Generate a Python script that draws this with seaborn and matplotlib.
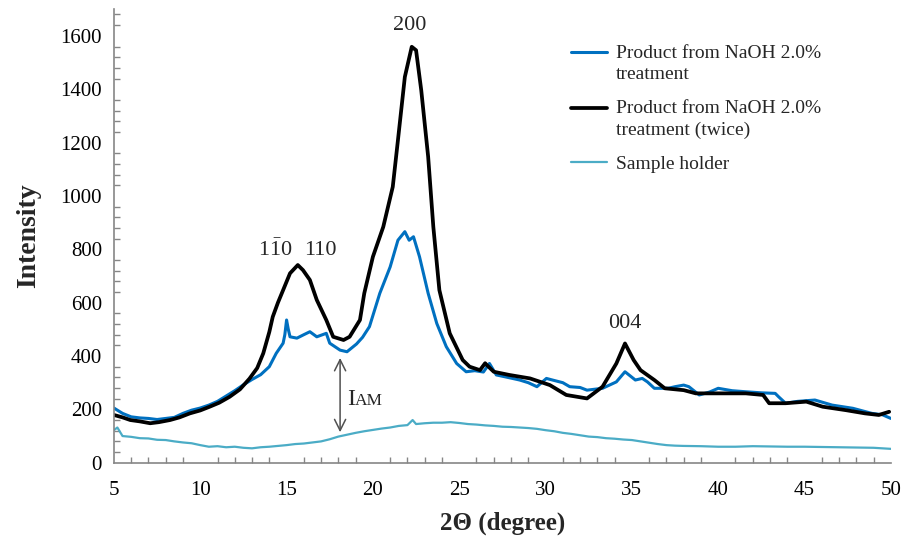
import pandas as pd
import seaborn as sns
import matplotlib.pyplot as plt
from matplotlib.ticker import MultipleLocator
from matplotlib.legend_handler import HandlerLine2D

# XRD patterns (2-theta in degrees, intensity)
once_x = [5.0, 5.5, 6.0, 6.5, 7.0, 7.5, 8.0, 8.5, 9.0, 9.5, 10.0, 10.5, 11.0, 11.5,
          12.0, 12.5, 13.0, 13.5, 14.0, 14.4, 14.8, 14.9, 15.0, 15.1, 15.2, 15.6,
          16.0, 16.35, 16.75, 17.3, 17.5, 18.1, 18.5, 19.05, 19.4, 19.8, 20.4, 21.0,
          21.45, 21.85, 22.1, 22.35, 22.7, 23.2, 23.7, 24.25, 24.85, 25.4, 25.9,
          26.4, 26.75, 27.15, 27.8, 28.5, 29.0, 29.5, 30.05, 30.4, 31.0, 31.4, 32.0,
          32.4, 33.3, 34.1, 34.6, 35.2, 35.6, 35.9, 36.3, 37.1, 37.5, 38.0, 38.3,
          38.9, 39.5, 40.0, 40.8, 41.6, 42.5, 43.3, 43.5, 43.9, 44.6, 45.6, 46.6,
          47.8, 48.9, 49.5, 50.0]
once_y = [205, 185, 172, 168, 166, 162, 166, 170, 185, 197, 205, 216, 230, 250,
          270, 292, 312, 330, 360, 410, 448, 480, 535, 500, 472, 467,
          480, 491, 472, 485, 448, 422, 416, 445, 470, 510, 635, 734,
          834, 866, 834, 847, 772, 635, 522, 435, 372, 341, 345,
          340, 372, 329, 320, 310, 300, 285, 316, 310, 300, 285, 282,
          272, 279, 303, 341, 310, 316, 303, 279, 279, 285, 291, 285,
          254, 265, 279, 270, 266, 262, 260, 247, 223, 230, 235, 216,
          204, 185, 180, 166]

twice_x = [5.0, 5.5, 5.95, 6.5, 7.1, 7.6, 8.25, 8.8, 9.4, 10.0, 10.55, 11.1, 11.7,
           12.3, 12.85, 13.3, 13.65, 14.0, 14.2, 14.5, 14.8, 15.2, 15.65, 15.95,
           16.35, 16.75, 17.3, 17.7, 18.3, 18.65, 19.25, 19.5, 20.0, 20.6, 21.15,
           21.45, 21.85, 22.25, 22.5, 22.8, 23.2, 23.5, 23.85, 24.45, 25.2, 25.6,
           26.2, 26.5, 26.6, 27.0, 27.9, 29.1, 30.25, 31.2, 32.4, 33.3, 34.1, 34.6,
           35.1, 35.5, 36.3, 36.9, 38.0, 38.7, 40.0, 41.6, 42.6, 42.95, 43.9, 45.1,
           46.05, 47.4, 48.5, 49.3, 49.9]
twice_y = [179, 170, 160, 155, 148, 152, 160, 170, 185, 196, 210, 225, 247,
           275, 315, 355, 410, 490, 547, 600, 647, 710, 741, 722,
           685, 610, 535, 472, 460, 472, 535, 635, 772, 884, 1034,
           1209, 1446, 1559, 1546, 1396, 1147, 884, 647, 485, 385, 360,
           347, 373, 366, 341, 329, 316, 291, 254, 241, 285, 372, 447,
           385, 347, 310, 279, 272, 260, 260, 260, 254, 223, 223, 229,
           210, 197, 185, 179, 191]

holder_x = [5.0, 5.2, 5.5, 6.0, 6.5, 7.0, 7.5, 8.0, 8.5, 9.0, 9.5, 10.0, 10.5, 11.0,
            11.5, 12.0, 12.5, 13.0, 13.5, 14.0, 14.5, 15.0, 15.5, 16.0, 16.5, 17.0,
            17.5, 18.0, 18.5, 19.0, 19.5, 20.0, 20.5, 21.0, 21.5, 22.0, 22.3, 22.5,
            23.0, 23.5, 24.0, 24.5, 25.0, 25.5, 26.0, 26.5, 27.0, 27.5, 28.0, 28.5,
            29.0, 29.5, 30.0, 30.5, 31.0, 31.5, 32.0, 32.5, 33.0, 33.5, 34.0, 34.5,
            35.0, 35.5, 36.0, 36.5, 37.0, 37.5, 38.0, 39.0, 40.0, 41.0, 42.0, 43.0,
            44.0, 45.0, 46.0, 47.0, 48.0, 49.0, 50.0]
holder_y = [122, 132, 100, 97, 92, 91, 86, 85, 80, 76, 73, 66, 60, 62,
            58, 60, 56, 54, 58, 60, 63, 66, 70, 72, 76, 80,
            88, 98, 105, 112, 118, 123, 128, 132, 138, 141, 160, 145,
            148, 150, 150, 152, 149, 145, 143, 140, 138, 135, 134, 132,
            130, 127, 122, 118, 112, 108, 103, 98, 96, 92, 90, 87,
            85, 80, 75, 70, 66, 64, 63, 62, 60, 60, 62, 61,
            60, 60, 59, 58, 57, 56, 52]

labels = ['Product from NaOH 2.0%\ntreatment',
          'Product from NaOH 2.0%\ntreatment (twice)',
          'Sample holder']

df = pd.concat([
    pd.DataFrame({'two_theta': once_x, 'intensity': once_y, 'sample': labels[0]}),
    pd.DataFrame({'two_theta': twice_x, 'intensity': twice_y, 'sample': labels[1]}),
    pd.DataFrame({'two_theta': holder_x, 'intensity': holder_y, 'sample': labels[2]}),
])


class FirstLineHandler(HandlerLine2D):
    # put the legend line next to the first text line of a two-line label
    def __init__(self, shift=0, **kw):
        super().__init__(**kw)
        self.shift = shift

    def create_artists(self, *args, **kwargs):
        artists = super().create_artists(*args, **kwargs)
        for a in artists:
            a.set_ydata([y + self.shift for y in a.get_ydata()])
        return artists


sns.set_style('white')
plt.rcParams['font.family'] = ['Liberation Serif', 'DejaVu Serif']
plt.rcParams['mathtext.fontset'] = 'custom'
plt.rcParams['mathtext.rm'] = 'Liberation Serif'

fig = plt.figure(figsize=(9.04, 5.39), dpi=100)
ax = fig.add_axes([0.126, 0.1415, 0.8595, 0.8415])

palette = {labels[0]: '#0070C0', labels[1]: '#000000', labels[2]: '#4BACC6'}
widths = {labels[0]: 2.2, labels[1]: 2.7, labels[2]: 1.6}
sns.lineplot(data=df, x='two_theta', y='intensity', hue='sample', size='sample',
             hue_order=labels, size_order=labels, palette=palette, sizes=widths,
             estimator=None, ax=ax)

ax.set_xlim(5, 50)
ax.set_ylim(0, 1700)
ax.xaxis.set_major_locator(MultipleLocator(5))
ax.xaxis.set_minor_locator(MultipleLocator(1))
ax.yaxis.set_major_locator(MultipleLocator(200))
ax.yaxis.set_minor_locator(MultipleLocator(40))
ax.set_yticks(range(0, 1601, 200))

grey = '#868686'
for side in ['top', 'right']:
    ax.spines[side].set_visible(False)
for side in ['left', 'bottom']:
    ax.spines[side].set_color(grey)
    ax.spines[side].set_linewidth(1.2)
ax.tick_params(axis='both', which='major', direction='inout', color=grey,
               width=1.2, labelsize=15, labelcolor='black')
ax.tick_params(axis='y', which='major', length=9, pad=4)
ax.tick_params(axis='x', which='major', length=9, pad=9)
ax.tick_params(axis='both', which='minor', direction='in', color=grey,
               width=1.0, length=4.5)
ax.tick_params(axis='x', which='minor', bottom=True)
ax.tick_params(axis='y', which='minor', left=True)

ax.set_xlabel('2Θ (degree)', fontsize=18, fontweight='bold', labelpad=8)
ax.set_ylabel('Intensity', fontsize=20, fontweight='bold', labelpad=14)

# peak labels
ax.text(22.14, 1640, '200', fontsize=16, ha='center', va='center')
ax.text(14.32, 796, r'$\mathrm{1\bar{1}0}$', fontsize=16, ha='center', va='center')
ax.text(16.93, 796, '110', fontsize=16, ha='center', va='center')
ax.text(34.6, 523, '004', fontsize=16, ha='center', va='center')

# amorphous intensity arrow
ax.annotate('', xy=(18.1, 403), xytext=(18.1, 104),
            arrowprops=dict(arrowstyle='<->', color='#505050', lw=1.1,
                            mutation_scale=20))
ax.text(18.5, 216, 'I', fontsize=17, ha='left', va='baseline')
ax.annotate('AM', xy=(18.5, 216), xytext=(5.5, 0), textcoords='offset points',
            fontsize=12.5, ha='left', va='baseline')

handles, _ = ax.get_legend_handles_labels()
hmap = {handles[0]: FirstLineHandler(shift=8.5),
        handles[1]: FirstLineHandler(shift=7.5)}
leg = ax.legend(handles=handles, labels=labels, loc='upper left',
                bbox_to_anchor=(0.588, 0.922), frameon=False, fontsize=14,
                handlelength=1.85, handletextpad=0.46, labelspacing=0.85,
                borderpad=0, borderaxespad=0, handler_map=hmap)
for t in leg.get_texts():
    t.set_linespacing(1.35)

fig.savefig('out.png', dpi=100)
